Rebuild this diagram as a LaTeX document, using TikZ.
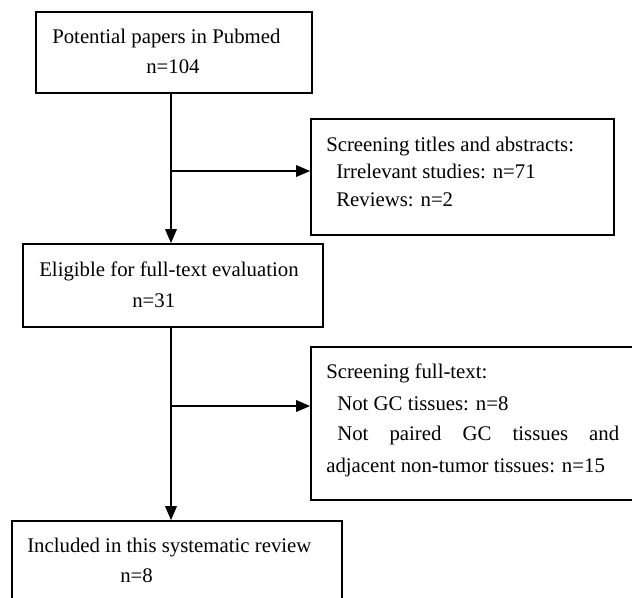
\documentclass[tikz,border=0pt]{standalone}
\usepackage{fontspec}
\setmainfont{Liberation Serif}
\usetikzlibrary{arrows.meta,fit}
\tikzset{
  box/.style={draw=black, line width=1.2pt, inner sep=0pt, rectangle},
  txt/.style={anchor=base west, inner sep=0pt, font=\fontsize{15.6pt}{18pt}\selectfont},
  arr/.style={line width=1.6pt, -{Triangle[length=10.5pt,width=8.5pt]}},
}
\begin{document}
\begin{tikzpicture}[x=0.75pt,y=-0.75pt]
\clip (0,0) rectangle (632,597);
\fill[white] (0,0) rectangle (632,597);
% boxes
\node[box, fit={(36,12) (312,93)}] (b1) {};
\node[box, fit={(311,119) (614,235)}] (bA) {};
\node[box, fit={(23,244) (323,327)}] (b2) {};
\node[box, fit={(311,347) (660,500)}] (bB) {};
\node[box, fit={(12,521) (342,640)}] (b3) {};
% texts
\node[txt] (t1a) at (52,43) {Potential papers in Pubmed};
\node[txt] (t1b) at (146,73) {n=104};
\node[txt] (tAa) at (326,151) {Screening titles and abstracts:};
\node[txt] (tAb) at (336,178) {Irrelevant studies: n=71};
\node[txt] (tAc) at (336,206) {Reviews: n=2};
\node[txt] (t2a) at (39,276) {Eligible for full-text evaluation};
\node[txt] (t2b) at (132,307) {n=31};
\node[txt] (tBa) at (326,378) {Screening full-text:};
\node[txt] (tBb) at (337,410) {Not GC tissues: n=8};
\node[txt] (tBc) at (337,440) {\makebox[211.5pt][s]{Not paired GC tissues and}};
\node[txt] (tBd) at (326,472) {adjacent non-tumor tissues: n=15};
\node[txt] (t3a) at (27,552) {Included in this systematic review};
\node[txt] (t3b) at (120,582) {n=8};
% connectors
\coordinate (j1) at (171,171);
\coordinate (j2) at (171,406);
\draw[arr] (b1.south -| j1) -- (b2.north -| j1);
\draw[arr] (j1) -- (bA.west |- j1);
\draw[arr] (b2.south -| j2) -- (b3.north -| j2);
\draw[arr] (j2) -- (bB.west |- j2);
\end{tikzpicture}
\end{document}
